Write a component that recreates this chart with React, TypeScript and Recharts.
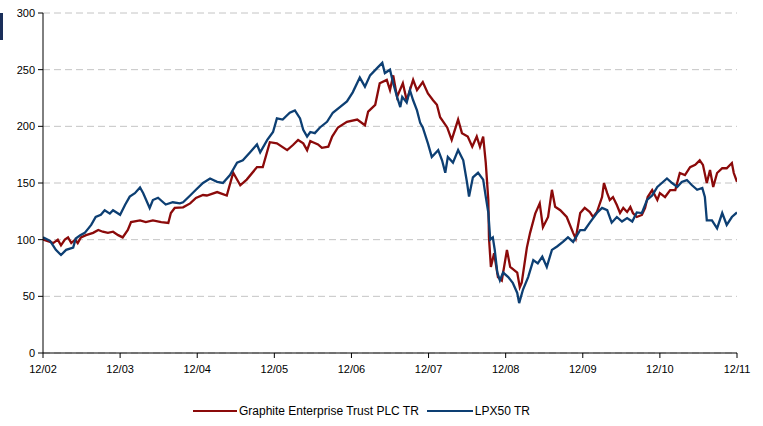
import React from 'react';
import { LineChart, Line, XAxis, YAxis, CartesianGrid } from 'recharts';

// Graphite Enterprise Trust PLC TR — months since Dec 2002 and index values
const gtMonths = [
  0, 1.1, 1.6, 2.3, 2.8, 3.4, 3.9, 4.4, 5.0, 5.4, 5.9, 6.7, 7.8, 8.6, 9.3, 10.1, 10.9, 11.7, 12.4, 13.2,
  13.7, 15.1, 16.0, 17.1, 18.4, 19.5, 19.9, 20.5, 21.8, 22.9, 23.8, 24.9,
  25.5, 27.1, 28.6, 29.6, 30.7, 31.7, 33.3, 34.2, 35.3, 36.4, 38.0, 38.9, 39.7, 40.5, 41.1, 41.6, 42.0, 42.8,
  43.4, 44.4, 45.0, 45.9, 47.3, 48.9, 50.1, 50.6, 51.7, 52.4, 53.5, 54.0, 54.5, 55.1, 56.0, 56.6, 57.6, 58.2, 59.1, 59.9,
  60.7, 61.3, 61.8, 62.9, 63.6, 64.6, 65.2, 66.1, 66.8, 67.5, 68.0, 68.5, 68.9, 69.3, 69.4, 69.7, 70.2, 70.8, 71.4, 72.2,
  72.7, 73.8, 74.2, 74.5, 75.3, 75.8, 76.6, 77.3, 77.8, 78.6, 79.2, 79.7, 80.5, 81.5, 82.5, 82.9,
  83.6, 84.3, 85.1, 85.6, 86.2, 87.0, 87.3, 87.8, 88.2, 88.7, 89.3, 89.8, 90.3, 90.9, 91.4, 91.8, 92.4, 93.2, 93.7, 94.1,
  94.8, 95.6, 96.0, 96.8, 97.6, 98.4, 99.1, 99.9, 100.7, 101.5, 102.2, 102.7, 103.3, 103.8, 104.3, 104.9, 105.7, 106.4, 107.2, 107.5,
  108,
];
const gtValues = [
  100, 98, 97, 100, 95, 100, 102, 97, 100, 97, 102, 104, 106, 108.5, 107, 106, 107, 104, 102, 108.5,
  115.5, 117, 115.5, 117, 115.5, 114.7, 123.5, 128, 128.5, 132, 136.8, 139.4,
  139, 142, 139, 159, 148, 153, 164, 164, 186, 185, 179, 183.5, 188, 185, 179, 187, 186, 184,
  181, 182, 191, 199, 204, 206, 201, 213, 219, 238, 241, 232, 245, 226, 238, 223, 241, 232, 239, 229,
  223, 219, 208, 199, 188, 206, 194, 191, 182, 191, 182, 191, 168, 135, 102, 76, 88, 67, 64, 91,
  76, 71, 58, 62, 93, 106, 123, 132, 111, 120, 144, 129, 126, 120, 106, 101,
  123.5, 128, 124.4, 120, 124.4, 137.6, 150, 141, 135, 137.6, 130.6, 123.5, 128, 124.4, 128.8, 123.5, 120, 121.8, 128, 137.6,
  143.8, 135, 141, 137.6, 143.8, 143.8, 158.8, 157, 164, 166, 170, 166, 150, 161.5, 146.5, 158.8, 163, 163, 167.6, 158.8,
  151,
];

// LPX50 TR — months since Dec 2002 and index values
const lpxMonths = [
  0, 1.1, 2.0, 2.8, 3.6, 4.7, 5.1, 5.8, 6.5, 7.5, 8.2, 9.0, 9.6, 10.4, 10.9, 12.0, 12.8, 13.5, 14.3, 15.1,
  15.6, 16.6, 17.1, 17.9, 19.1, 20.2, 21.3, 21.8, 22.9, 23.8, 24.9,
  26.0, 27.1, 28.0, 29.1, 30.2, 31.1, 32.2, 33.3, 33.8, 34.9, 35.8, 36.4, 37.3, 38.4, 39.2, 40.0, 40.5, 41.1, 41.6, 42.3,
  43.1, 44.2, 45.1, 46.2, 47.3, 48.2, 49.3, 50.1, 50.9, 52.1, 52.8, 53.2, 54.0, 54.5, 55.1, 55.6, 55.9, 56.6, 57.1, 57.6,
  58.2, 58.7, 59.1, 59.9, 60.5, 61.5, 62.1, 62.6, 63.0, 63.8, 64.6, 65.4, 66.0, 66.3, 66.9, 67.7, 68.5, 68.9, 69.3, 69.6,
  70.0, 70.3, 70.7, 71.1, 71.6, 72.4, 73.1, 73.8, 74.1, 74.7, 75.5, 76.3, 77.0, 77.7, 78.4, 79.2, 80.0, 80.9, 81.7, 82.5,
  83.6, 84.3, 85.1, 86.2, 87.0, 87.8, 88.5, 89.3, 90.1, 90.9, 91.7, 92.4, 93.2, 94.0, 94.8, 95.6, 96.3, 97.1, 97.9, 98.7,
  99.4, 100.2, 101.0, 101.8, 102.6, 103.0, 103.3, 104.1, 104.9, 105.7, 106.4, 107.2, 108,
];
const lpxValues = [
  102, 99, 91, 86.5, 91, 93, 101, 104, 106, 113, 120, 122, 126, 123, 126, 122, 131, 138, 141, 146,
  141, 128, 135, 137, 131, 133, 132, 133, 139, 144, 150,
  154, 151, 150, 157, 168, 170, 177, 184, 177, 188, 195, 207, 206, 212, 214, 207, 197, 191, 195, 194,
  199, 204, 212, 217, 222, 230, 243, 235, 245, 252, 256, 247, 250, 238, 226, 217, 226, 221, 232, 223,
  214, 203, 199, 185, 173, 179, 170, 159, 173, 168, 179, 170, 150, 138, 155, 159, 153, 138, 124, 100,
  102, 91, 71, 64, 71, 67, 62, 53, 44, 56, 67, 82, 79, 85, 76, 91, 94, 98, 102, 98,
  108.5, 108.5, 115, 123.5, 128, 126, 115, 120, 116, 119, 116, 124, 123.5, 135, 139, 146.5, 150, 154, 150, 146.5,
  151, 152.6, 148, 144, 145.6, 137.6, 117, 117, 110, 123.5, 113, 120, 124,
];

const xTickLabels = ['12/02', '12/03', '12/04', '12/05', '12/06', '12/07', '12/08', '12/09', '12/10', '12/11'];
const xTicks = [0, 12, 24, 36, 48, 60, 72, 84, 96, 108];
const yTicks = [0, 50, 100, 150, 200, 250, 300];

const seriesNames = ['Graphite Enterprise Trust PLC TR', 'LPX50 TR'];
const colors = ['#8B0A0A', '#0D3F73'];

const gtData = gtMonths.map((m, i) => ({ m, v: gtValues[i] }));
const lpxData = lpxMonths.map((m, i) => ({ m, v: lpxValues[i] }));

const font = "Arial, 'Liberation Sans', sans-serif";

export default function App() {
  return (
    <div style={{ position: 'absolute', left: 0, top: 0, width: 763, height: 426, background: '#fff', fontFamily: font }}>
      <div style={{ position: 'absolute', left: 0, top: 13, width: 3, height: 27, background: '#1a2f5a' }} />
      <LineChart width={763} height={426} margin={{ top: 13, right: 26, bottom: 43, left: 0 }}>
        <CartesianGrid vertical={false} stroke="#c4c4c4" strokeDasharray="7 4" />
        <XAxis
          dataKey="m"
          type="number"
          domain={[0, 108]}
          ticks={xTicks}
          allowDataOverflow
          tickFormatter={(v: number) => xTickLabels[Math.round(v / 12)]}
          height={30}
          tickSize={5}
          tickMargin={7}
          stroke="#000"
          tick={{ fill: '#000', fontSize: 11, fontFamily: font }}
          interval={0}
        />
        <YAxis
          type="number"
          domain={[0, 300]}
          ticks={yTicks}
          width={43}
          tickSize={5}
          tickMargin={3}
          stroke="#000"
          tick={{ fill: '#000', fontSize: 11, fontFamily: font }}
          interval={0}
        />
        <Line data={gtData} dataKey="v" name={seriesNames[0]} stroke={colors[0]} strokeWidth={2.3} dot={false} isAnimationActive={false} />
        <Line data={lpxData} dataKey="v" name={seriesNames[1]} stroke={colors[1]} strokeWidth={2.3} dot={false} isAnimationActive={false} />
      </LineChart>
      <div style={{ position: 'absolute', left: 193, top: 403, height: 16, display: 'flex', alignItems: 'center', fontSize: 12, color: '#000', whiteSpace: 'nowrap' }}>
        <svg width={44} height={4} style={{ marginRight: 2 }}><line x1={0} y1={2} x2={44} y2={2} stroke={colors[0]} strokeWidth={2} /></svg>
        <span>{seriesNames[0]}</span>
        <svg width={46} height={4} style={{ marginLeft: 8, marginRight: 2 }}><line x1={0} y1={2} x2={46} y2={2} stroke={colors[1]} strokeWidth={2} /></svg>
        <span>{seriesNames[1]}</span>
      </div>
    </div>
  );
}
